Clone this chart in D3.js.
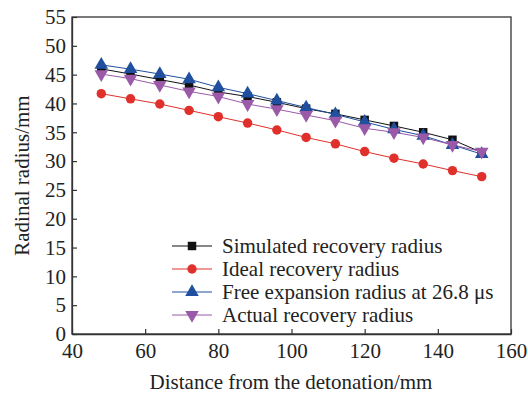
<!DOCTYPE html>
<html>
<head>
<meta charset="utf-8">
<script src="https://d3js.org/d3.v7.min.js"></script>
<style>
  body { margin: 0; background: #fff; }
  svg text { font-family: "Liberation Serif", "Times New Roman", serif; fill: #222; }
</style>
</head>
<body>
<svg id="chart" width="528" height="394"></svg>
<script>
// data
var distance = [48, 56, 64, 72, 80, 88, 96, 104, 112, 120, 128, 136, 144, 152];
var simulated = [46.0, 45.1, 44.15, 43.2, 42.0, 41.2, 40.2, 39.1, 38.2, 37.15, 36.1, 35.0, 33.7, 31.5];
var ideal = [41.7, 40.8, 39.9, 38.8, 37.7, 36.6, 35.4, 34.1, 33.0, 31.65, 30.5, 29.5, 28.35, 27.3];
var freeExp = [46.7, 45.95, 45.1, 44.2, 42.8, 41.7, 40.5, 39.3, 38.1, 36.8, 35.5, 34.4, 32.8, 31.2];
var actual = [45.1, 44.3, 43.2, 42.1, 41.2, 39.9, 39.0, 38.0, 37.0, 35.7, 35.0, 34.1, 32.8, 31.65];
var xTicks = [40, 60, 80, 100, 120, 140, 160];
var yTicks = [0, 5, 10, 15, 20, 25, 30, 35, 40, 45, 50, 55];

var series = [
  {name: "Simulated recovery radius", values: simulated, color: "#111111", symbol: "square"},
  {name: "Ideal recovery radius", values: ideal, color: "#e0302b", symbol: "circle"},
  {name: "Free expansion radius at 26.8 \u03bcs", values: freeExp, color: "#1f4f9e", symbol: "up"},
  {name: "Actual recovery radius", values: actual, color: "#9a5aa8", symbol: "down"}
];

var svg = d3.select("#chart");
var plotLeft = 72, plotRight = 511, plotTop = 17, plotBottom = 334;
var fontSize = 21;

var x = d3.scaleLinear().domain([40, 160]).range([plotLeft, plotRight]);
var y = d3.scaleLinear().domain([0, 55]).range([plotBottom, plotTop]);

// frame
svg.append("rect")
  .attr("x", plotLeft).attr("y", plotTop)
  .attr("width", plotRight - plotLeft).attr("height", plotBottom - plotTop)
  .attr("fill", "none").attr("stroke", "#333").attr("stroke-width", 1.3);

// axes, ticks pointing inward
var xAxis = svg.append("g")
  .attr("transform", "translate(0," + plotBottom + ")")
  .call(d3.axisBottom(x).tickValues(xTicks).tickSizeInner(-5).tickSizeOuter(0).tickPadding(9));
var yAxis = svg.append("g")
  .attr("transform", "translate(" + plotLeft + ",0)")
  .call(d3.axisLeft(y).tickValues(yTicks).tickSizeInner(-5).tickSizeOuter(0).tickPadding(6));

[xAxis, yAxis].forEach(function(a) {
  a.select(".domain").attr("stroke", "#333").attr("stroke-width", 1.3);
  a.selectAll(".tick line").attr("stroke", "#333").attr("stroke-width", 1.2);
  a.selectAll(".tick text").attr("font-size", fontSize).attr("fill", "#222")
    .style("font-family", "'Liberation Serif', serif");
});

// axis titles
svg.append("text")
  .attr("x", 291).attr("y", 389)
  .attr("text-anchor", "middle").attr("font-size", fontSize)
  .text("Distance from the detonation/mm");
svg.append("text")
  .attr("transform", "translate(29," + ((plotTop + plotBottom) / 2) + ") rotate(-90)")
  .attr("text-anchor", "middle").attr("font-size", fontSize)
  .text("Radinal radius/mm");

function symbolPath(s) {
  if (s === "square") return d3.symbol().type(d3.symbolSquare).size(72)();
  if (s === "circle") return d3.symbol().type(d3.symbolCircle).size(70)();
  return d3.symbol().type(d3.symbolTriangle).size(80)();
}

var line = d3.line()
  .x(function(d) { return x(d[0]); })
  .y(function(d) { return y(d[1]); });

series.forEach(function(s) {
  var pts = distance.map(function(d, i) { return [d, s.values[i]]; });
  svg.append("path")
    .attr("d", line(pts))
    .attr("fill", "none").attr("stroke", s.color).attr("stroke-width", 1);
});

series.forEach(function(s) {
  var pts = distance.map(function(d, i) { return [d, s.values[i]]; });
  svg.append("g").selectAll("path").data(pts).enter().append("path")
    .attr("d", symbolPath(s.symbol))
    .attr("transform", function(d) {
      return "translate(" + x(d[0]) + "," + y(d[1]) + ")" + (s.symbol === "down" ? " rotate(180)" : "");
    })
    .attr("fill", s.color);
});

// legend
var legend = svg.append("g").attr("transform", "translate(172,246)");
series.forEach(function(s, i) {
  var g = legend.append("g").attr("transform", "translate(0," + (i * 23) + ")");
  g.append("line").attr("x1", 0).attr("x2", 40).attr("y1", 0).attr("y2", 0)
    .attr("stroke", s.color).attr("stroke-width", 1);
  g.append("path").attr("d", symbolPath(s.symbol))
    .attr("transform", "translate(20,0)" + (s.symbol === "down" ? " rotate(180)" : ""))
    .attr("fill", s.color);
  g.append("text").attr("x", 50).attr("y", 7).attr("font-size", fontSize).text(s.name);
});
</script>
</body>
</html>
